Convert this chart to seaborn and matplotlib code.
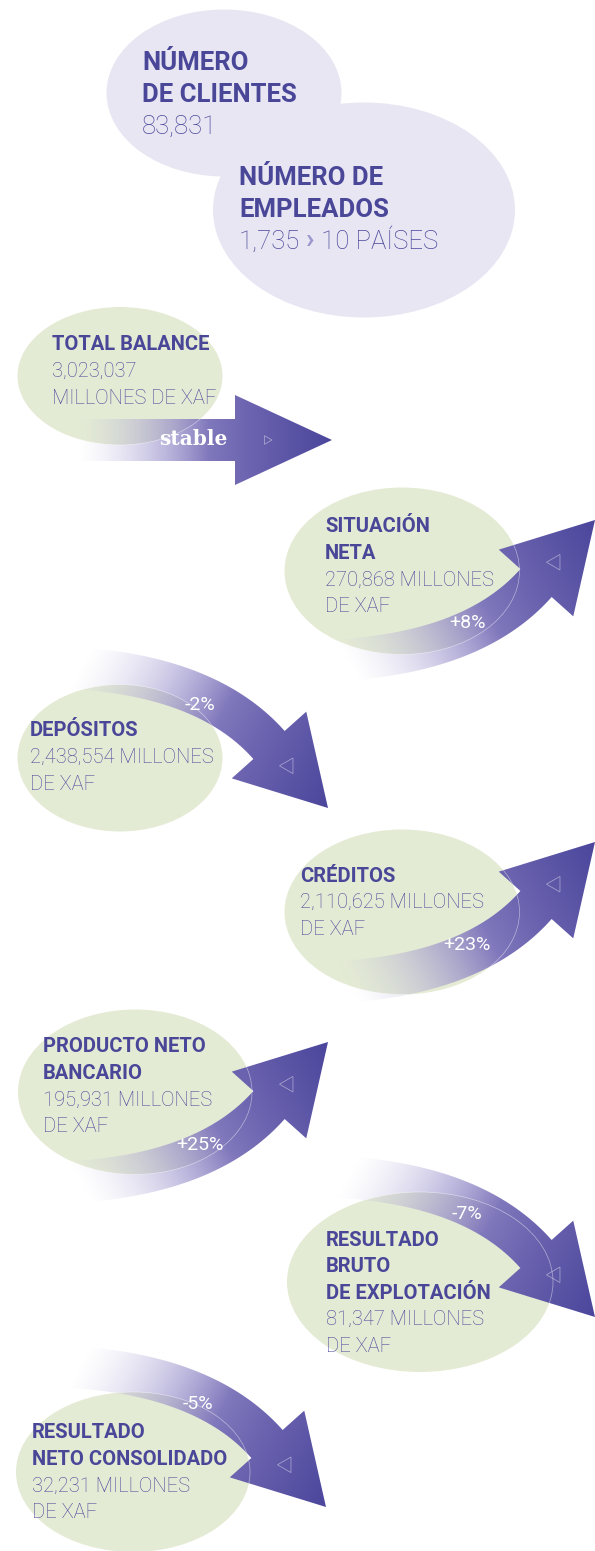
import numpy as np
import matplotlib
matplotlib.use("Agg")
import matplotlib.pyplot as plt
import seaborn as sns
from matplotlib.patches import Ellipse, Polygon

# ---------------- data ----------------
head_titles = ["NÚMERO\nDE CLIENTES", "NÚMERO DE\nEMPLEADOS"]
num_clientes = 83831
num_empleados = 1735
num_paises = 10
metric_titles = ["TOTAL BALANCE", "SITUACIÓN\nNETA", "DEPÓSITOS", "CRÉDITOS",
                 "PRODUCTO NETO\nBANCARIO", "RESULTADO\nBRUTO\nDE EXPLOTACIÓN",
                 "RESULTADO\nNETO CONSOLIDADO"]
metric_values = [3023037, 270868, 2438554, 2110625, 195931, 81347, 32231]
metric_changes = [0, 8, -2, 23, 25, -7, -5]
unit_words = ["MILLONES", "DE", "XAF"]

# ---------------- layout (pixels) ----------------
W, H = 595, 1551
head_ell = [(224, 93, 235, 167), (364, 210, 302, 215)]
head_text = [(142, 63), (239, 178)]
ell = [(120, 376, 205, 138), (402, 571, 235, 167), (120, 758, 205, 147),
       (402, 912, 235, 165), (135, 1092, 234, 165), (420, 1282, 266, 180),
       (133, 1472, 234, 160)]
text_xy = [(52, 345), (325, 527), (30, 731), (300, 876), (43, 1047), (326, 1240), (32, 1433)]
words_first_line = [0, 1, 1, 1, 1, 1, 1]
tips = [(332, 440), (595, 520), (328, 808), (595, 842), (328, 1042), (595, 1317), (326, 1507)]

TITLE_C = "#4a4799"
VALUE_C = "#4b479c"
GREEN = "#e4ebd4"
LAV = "#e7e6f2"

sns.set_theme(style="white")
plt.rcParams['font.family'] = ['Roboto', 'DejaVu Sans']

fig = plt.figure(figsize=(W / 100, H / 100), dpi=100)
ax = fig.add_axes([0, 0, 1, 1])
ax.axis("off")

cmap = sns.blend_palette(["#c9c5e6", "#9a92cc", "#6d65b0", "#4b469c"], as_cmap=True)


def bezier(p0, p1, p2, n=80):
    t = np.linspace(0, 1, n)[:, None]
    return (1 - t) ** 2 * p0 + 2 * (1 - t) * t * p1 + t ** 2 * p2


def draw_arrow(center, tip, sw, hw, ellipse_spec):
    center = np.asarray(center, float)
    tip = np.asarray(tip, float)
    d = np.gradient(center, axis=0)
    d /= np.linalg.norm(d, axis=1)[:, None]
    nrm = np.column_stack([-d[:, 1], d[:, 0]])
    left = center + nrm * sw / 2
    right = center - nrm * sw / 2
    B = center[-1]
    n_end = nrm[-1]
    poly = np.vstack([left, B + n_end * hw, tip, B - n_end * hw, right[::-1]])
    patch = Polygon(poly, closed=True, facecolor="none", edgecolor="none",
                    transform=ax.transData)
    ax.add_patch(patch)
    x0, y0 = poly.min(axis=0) - 2
    x1, y1 = poly.max(axis=0) + 2
    xs = np.arange(x0, x1, 1.0)
    ys = np.arange(y0, y1, 1.0)
    X, Y = np.meshgrid(xs, ys)
    tail = center[0]
    v = tip - tail
    t = ((X - tail[0]) * v[0] + (Y - tail[1]) * v[1]) / (v @ v)
    t = np.clip(t, 0, 1)
    img = cmap(t)
    img[..., 3] = np.clip((t - 0.02) / 0.5, 0, 1) ** 1.1
    im = ax.imshow(img, extent=(x0, x1, y0, y1), origin="lower",
                   interpolation="bilinear", zorder=3, aspect="auto")
    im.set_clip_path(patch)
    # faint ellipse edge across the arrow
    cx, cy, ew, eh = ellipse_spec
    e = Ellipse((cx, cy), ew, eh, fill=False, edgecolor="white", lw=0.5,
                alpha=0.5, zorder=4)
    ax.add_patch(e)
    e.set_clip_path(patch)
    # small triangle marker in arrow head
    dirv = (tip - B) / np.linalg.norm(tip - B)
    c = B + 0.33 * (tip - B)
    straight = np.allclose(dirv, [1, 0])
    size = 5 if straight else 9
    ang = np.deg2rad([0, 120, 240]) if straight else np.deg2rad([180, 60, 300])
    tri = np.column_stack([c[0] + size * np.cos(ang), c[1] + size * np.sin(ang)])
    ax.add_patch(Polygon(tri, closed=True, fill=False, edgecolor="white", lw=0.5,
                         alpha=0.5, zorder=4))
    return B, tip


# head ellipses
for (cx, cy, ew, eh) in head_ell:
    ax.add_patch(Ellipse((cx, cy), ew, eh, facecolor=LAV, edgecolor="none", zorder=1))

# metric ellipses
for (cx, cy, ew, eh) in ell:
    ax.add_patch(Ellipse((cx, cy), ew, eh, facecolor=GREEN, edgecolor="none", zorder=1))

# arrows
up_tpl = np.array([[-255, 140], [-120, 132], [-59, 63]], float)
for i, ch in enumerate(metric_changes):
    tip = np.array(tips[i], float)
    if ch == 0:
        center = np.column_stack([np.linspace(tip[0] - 259, tip[0] - 97, 60),
                                  np.full(60, tip[1])])
        draw_arrow(center, tip, 42, 45, ell[i])
        lab_pos = (tip[0] - 139, tip[1] - 1)
        ax.text(*lab_pos, "stable", color="white", fontsize=14.5, fontweight="bold",
                family=["DejaVu Serif"], ha="center", va="center", zorder=6)
    else:
        tpl = up_tpl.copy()
        if ch < 0:
            tpl[:, 1] *= -1
        p = tpl + tip
        center = bezier(p[0], p[1], p[2])
        draw_arrow(center, tip, 42, 50, ell[i])
        lab = f"{ch:+d}%"
        lx, ly = tip[0] - 128, tip[1] + (103 if ch > 0 else -103)
        ax.text(lx, ly, lab, color="white", fontsize=14, fontweight="normal",
                ha="center", va="center", zorder=6)

# metric texts
LS = 26.6
for i, title in enumerate(metric_titles):
    x, y = text_xy[i]
    lines = title.split("\n")
    for j, ln in enumerate(lines):
        ax.text(x, y + j * LS, ln, color=TITLE_C, fontsize=14.5, fontweight="bold",
                ha="left", va="center", zorder=7)
    k = words_first_line[i]
    v1 = " ".join([f"{metric_values[i]:,}"] + unit_words[:k])
    v2 = " ".join(unit_words[k:])
    n = len(lines)
    ax.text(x, y + n * LS, v1, color=VALUE_C, fontsize=14.5, fontweight="light",
            ha="left", va="center", zorder=7)
    ax.text(x, y + (n + 1) * LS, v2, color=VALUE_C, fontsize=14.5, fontweight="light",
            ha="left", va="center", zorder=7)

# head texts
HS = 32
for i, title in enumerate(head_titles):
    x, y = head_text[i]
    for j, ln in enumerate(title.split("\n")):
        ax.text(x, y + j * HS, ln, color=TITLE_C, fontsize=18.5, fontweight="bold",
                ha="left", va="center", zorder=7)
ax.text(head_text[0][0], head_text[0][1] + 2 * HS, f"{num_clientes:,}", color=VALUE_C,
        fontsize=18.5, fontweight="light", ha="left", va="center", zorder=7)

ax.set_xlim(0, W)
ax.set_ylim(H, 0)
renderer = fig.canvas.get_renderer()
x, y = head_text[1][0], head_text[1][1] + 2 * HS
t1 = ax.text(x, y, f"{num_empleados:,}", color=VALUE_C, fontsize=18.5,
             fontweight="light", ha="left", va="center", zorder=7)
bb = t1.get_window_extent(renderer=renderer)
x2 = ax.transData.inverted().transform((bb.x1, 0))[0] + 6
t2 = ax.text(x2, y - 1, "›", color="#9d99cf", fontsize=20, fontweight="bold",
             ha="left", va="center", zorder=7)
bb2 = t2.get_window_extent(renderer=renderer)
x3 = ax.transData.inverted().transform((bb2.x1, 0))[0] + 6
ax.text(x3, y, f"{num_paises} PAÍSES", color=VALUE_C, fontsize=18.5,
        fontweight="light", ha="left", va="center", zorder=7)

ax.set_xlim(0, W)
ax.set_ylim(H, 0)
fig.savefig("out.png", dpi=100, facecolor="white")
